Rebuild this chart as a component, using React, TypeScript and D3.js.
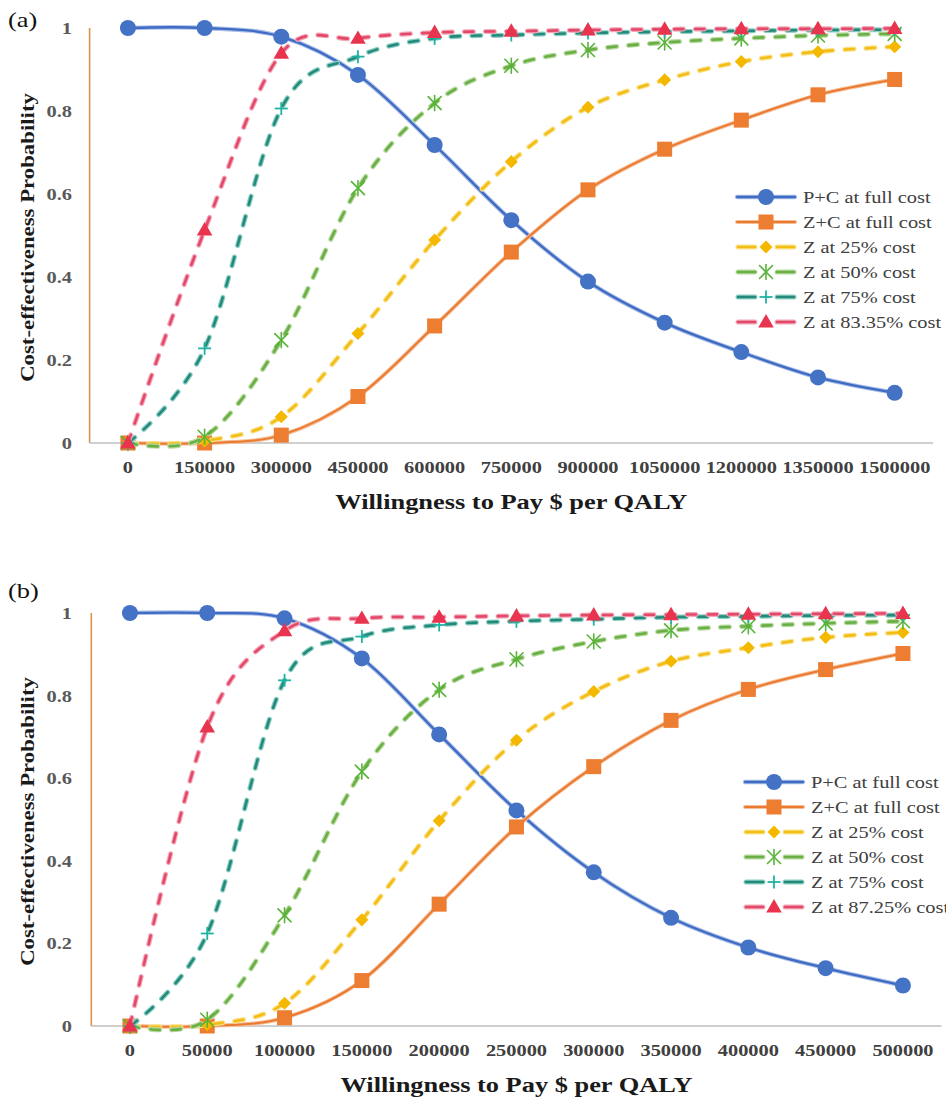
import React from "react";
import * as d3 from "d3";

// ---------- DATA ----------
const categoriesA = ["0", "150000", "300000", "450000", "600000", "750000", "900000", "1050000", "1200000", "1350000", "1500000"];
const categoriesB = ["0", "50000", "100000", "150000", "200000", "250000", "300000", "350000", "400000", "450000", "500000"];

const seriesNamesA = ["P+C at full cost", "Z+C at full cost", "Z at 25% cost", "Z at 50% cost", "Z at 75% cost", "Z at 83.35% cost"];
const seriesNamesB = ["P+C at full cost", "Z+C at full cost", "Z at 25% cost", "Z at 50% cost", "Z at 75% cost", "Z at 87.25% cost"];

const pcA = [1, 1, 0.979, 0.887, 0.718, 0.537, 0.389, 0.29, 0.219, 0.158, 0.121];
const zcA = [0, 0, 0.019, 0.112, 0.282, 0.46, 0.61, 0.708, 0.778, 0.839, 0.876];
const z25A = [0, 0.005, 0.063, 0.264, 0.489, 0.678, 0.809, 0.875, 0.919, 0.943, 0.955];
const z50A = [0, 0.015, 0.248, 0.614, 0.819, 0.909, 0.947, 0.965, 0.975, 0.982, 0.986];
const z75A = [0, 0.228, 0.806, 0.931, 0.975, 0.983, 0.988, 0.991, 0.993, 0.995, 0.996];
const z83A = [0, 0.513, 0.939, 0.975, 0.989, 0.992, 0.995, 0.997, 0.998, 0.998, 0.999];

const pcB = [1, 1, 0.987, 0.89, 0.706, 0.522, 0.372, 0.262, 0.19, 0.14, 0.098];
const zcB = [0, 0, 0.02, 0.11, 0.295, 0.482, 0.628, 0.74, 0.815, 0.863, 0.902];
const z25B = [0, 0.003, 0.055, 0.257, 0.497, 0.692, 0.81, 0.883, 0.916, 0.941, 0.953];
const z50B = [0, 0.015, 0.268, 0.616, 0.814, 0.888, 0.931, 0.958, 0.968, 0.975, 0.98];
const z75B = [0, 0.224, 0.837, 0.943, 0.971, 0.98, 0.985, 0.99, 0.992, 0.994, 0.995];
const z87B = [0, 0.724, 0.957, 0.987, 0.99, 0.993, 0.995, 0.996, 0.997, 0.998, 0.999];

const yTickValues = [0, 0.2, 0.4, 0.6, 0.8, 1];
const yTickLabels = ["0", "0.2", "0.4", "0.6", "0.8", "1"];

const xTitle = "Willingness to Pay $ per QALY";
const yTitle = "Cost-effectiveness Probability";

// ---------- STYLES ----------
const FONT = '"Liberation Serif","Times New Roman",serif';
const STRETCH = 1.2;

type SeriesStyle = {
  core: string;
  edge: string;
  coreW: number;
  edgeW: number;
  dashed: boolean;
  marker: string;
  mColor: string;
};

const STYLES: SeriesStyle[] = [
  { core: "#3F6BC4", edge: "#A9BFE6", coreW: 2.3, edgeW: 4.4, dashed: false, marker: "circle", mColor: "#4472C4" },
  { core: "#EA7A30", edge: "#F6BE98", coreW: 2.0, edgeW: 4.0, dashed: false, marker: "square", mColor: "#ED7D31" },
  { core: "#F2BE16", edge: "#FBE08A", coreW: 2.6, edgeW: 5.0, dashed: true, marker: "diamond", mColor: "#F5B800" },
  { core: "#6AAE45", edge: "#B5DA9E", coreW: 2.6, edgeW: 5.0, dashed: true, marker: "asterisk", mColor: "#58B437" },
  { core: "#23897A", edge: "#8CCFC3", coreW: 2.6, edgeW: 5.0, dashed: true, marker: "plus", mColor: "#1FB3A4" },
  { core: "#E2486A", edge: "#F4A8B8", coreW: 2.6, edgeW: 5.0, dashed: true, marker: "triangle", mColor: "#E8344F" },
];

const DASH = "9 12";

function T(props: {
  x: number; y: number; rot?: number; size: number; weight?: string | number;
  fill?: string; anchor?: "start" | "middle" | "end"; children: React.ReactNode;
}) {
  const { x, y, rot = 0, size, weight = "bold", fill = "#222", anchor = "start", children } = props;
  return (
    <text
      transform={`translate(${x},${y}) rotate(${rot}) scale(${STRETCH},1)`}
      fontSize={size}
      fontWeight={weight}
      fill={fill}
      textAnchor={anchor}
      fontFamily={FONT}
    >
      {children}
    </text>
  );
}

function Marker({ type, x, y, color }: { type: string; x: number; y: number; color: string }) {
  if (type === "circle") return <circle cx={x} cy={y} r={8} fill={color} />;
  if (type === "square") return <rect x={x - 7.5} y={y - 7.5} width={15} height={15} fill={color} />;
  if (type === "diamond") {
    const p = d3.symbol().type(d3.symbolSquare).size(85)();
    return <path d={p || ""} transform={`translate(${x},${y}) rotate(45)`} fill={color} />;
  }
  if (type === "triangle") {
    const p = d3.symbol().type(d3.symbolTriangle).size(105)();
    return <path d={p || ""} transform={`translate(${x},${y + 1})`} fill={color} />;
  }
  if (type === "asterisk") {
    const h = 6.5;
    return (
      <g stroke={color} strokeWidth={1.6} strokeLinecap="round">
        <line x1={x - h} y1={y - h} x2={x + h} y2={y + h} />
        <line x1={x - h} y1={y + h} x2={x + h} y2={y - h} />
        <line x1={x} y1={y - h - 1} x2={x} y2={y + h + 1} />
      </g>
    );
  }
  if (type === "plus") {
    const h = 6.5;
    return (
      <g stroke={color} strokeWidth={1.8}>
        <line x1={x - h} y1={y} x2={x + h} y2={y} />
        <line x1={x} y1={y - h} x2={x} y2={y + h} />
      </g>
    );
  }
  return null;
}

type PanelLayout = {
  left: number; right: number; top: number; bottom: number;
  label: string; labelY: number;
  legendX: number; legendY: number; legendW: number;
};

function Panel({ categories, series, names, L }: {
  categories: string[]; series: number[][]; names: string[]; L: PanelLayout;
}) {
  const x = d3.scalePoint<string>().domain(categories).range([L.left, L.right]).padding(0.5);
  const y = d3.scaleLinear().domain([0, 1]).range([L.bottom, L.top]);
  const line = d3
    .line<number>()
    .x((_, i) => x(categories[i]) as number)
    .y((d) => y(d))
    .curve(d3.curveCatmullRom.alpha(0));

  const legendRow = 25;

  return (
    <g>
      <T x={8} y={L.labelY} size={22} weight="normal" fill="#111">{L.label}</T>

      {/* axes */}
      <line x1={L.left} x2={L.left} y1={y(1)} y2={y(0)} stroke="#D9934F" strokeWidth={1.6} />
      <line x1={L.left} x2={L.right} y1={y(0)} y2={y(0)} stroke="#BFBFBF" strokeWidth={1.6} />

      {yTickValues.map((v, i) => (
        <T key={"yt" + i} x={72} y={y(v) + 6} size={17} anchor="end" fill="#595959">{yTickLabels[i]}</T>
      ))}
      {categories.map((c) => (
        <T key={"xt" + c} x={x(c) as number} y={y(0) + 30} size={17} anchor="middle" fill="#404040">{c}</T>
      ))}
      <T x={(L.left + L.right) / 2} y={y(0) + 66} size={22} anchor="middle" fill="#1a1a1a">{xTitle}</T>
      <T x={34} y={(L.top + L.bottom) / 2 + 2} rot={-90} size={19} anchor="middle" fill="#1a1a1a">{yTitle}</T>

      {/* series */}
      {series.map((vals, si) => {
        const s = STYLES[si];
        const d = line(vals) || "";
        return (
          <g key={"s" + si}>
            <path d={d} fill="none" stroke={s.edge} strokeWidth={s.edgeW} strokeLinecap="round"
              strokeLinejoin="round" strokeDasharray={s.dashed ? DASH : undefined} />
            <path d={d} fill="none" stroke={s.core} strokeWidth={s.coreW} strokeLinecap="round"
              strokeLinejoin="round" strokeDasharray={s.dashed ? DASH : undefined} />
            {vals.map((v, i) => (
              <Marker key={i} type={s.marker} x={x(categories[i]) as number} y={y(v)} color={s.mColor} />
            ))}
          </g>
        );
      })}

      {/* legend */}
      {names.map((n, i) => {
        const s = STYLES[i];
        const cy = L.legendY + i * legendRow;
        const x0 = L.legendX;
        const x1 = L.legendX + L.legendW;
        const mid = (x0 + x1) / 2;
        const segs = s.dashed
          ? [[x0 + 3, x0 + 20], [x1 - 20, x1 - 3]]
          : [[x0 + 2, x1 - 2]];
        return (
          <g key={"lg" + i}>
            {segs.map((sg, k) => (
              <g key={k}>
                <line x1={sg[0]} x2={sg[1]} y1={cy} y2={cy} stroke={s.edge} strokeWidth={s.edgeW} strokeLinecap="round" />
                <line x1={sg[0]} x2={sg[1]} y1={cy} y2={cy} stroke={s.core} strokeWidth={s.coreW} strokeLinecap="round" />
              </g>
            ))}
            <Marker type={s.marker} x={mid} y={cy} color={s.mColor} />
            <T x={x1 + 6} y={cy + 6} size={17} weight="normal" fill="#404040">{n}</T>
          </g>
        );
      })}
    </g>
  );
}

export default function App() {
  const seriesA = [pcA, zcA, z25A, z50A, z75A, z83A];
  const seriesB = [pcB, zcB, z25B, z50B, z75B, z87B];
  const LA: PanelLayout = {
    left: 89.6, right: 933, top: 28, bottom: 443,
    label: "(a)", labelY: 27, legendX: 735, legendY: 197, legendW: 62,
  };
  const LB: PanelLayout = {
    left: 91.3, right: 941.6, top: 613, bottom: 1026,
    label: "(b)", labelY: 598, legendX: 743, legendY: 782, legendW: 62,
  };
  return (
    <svg width={946} height={1097} style={{ position: "absolute", left: 0, top: 0, background: "#fff" }}>
      <rect width={946} height={1097} fill="#fff" />
      <Panel categories={categoriesA} series={seriesA} names={seriesNamesA} L={LA} />
      <Panel categories={categoriesB} series={seriesB} names={seriesNamesB} L={LB} />
    </svg>
  );
}
